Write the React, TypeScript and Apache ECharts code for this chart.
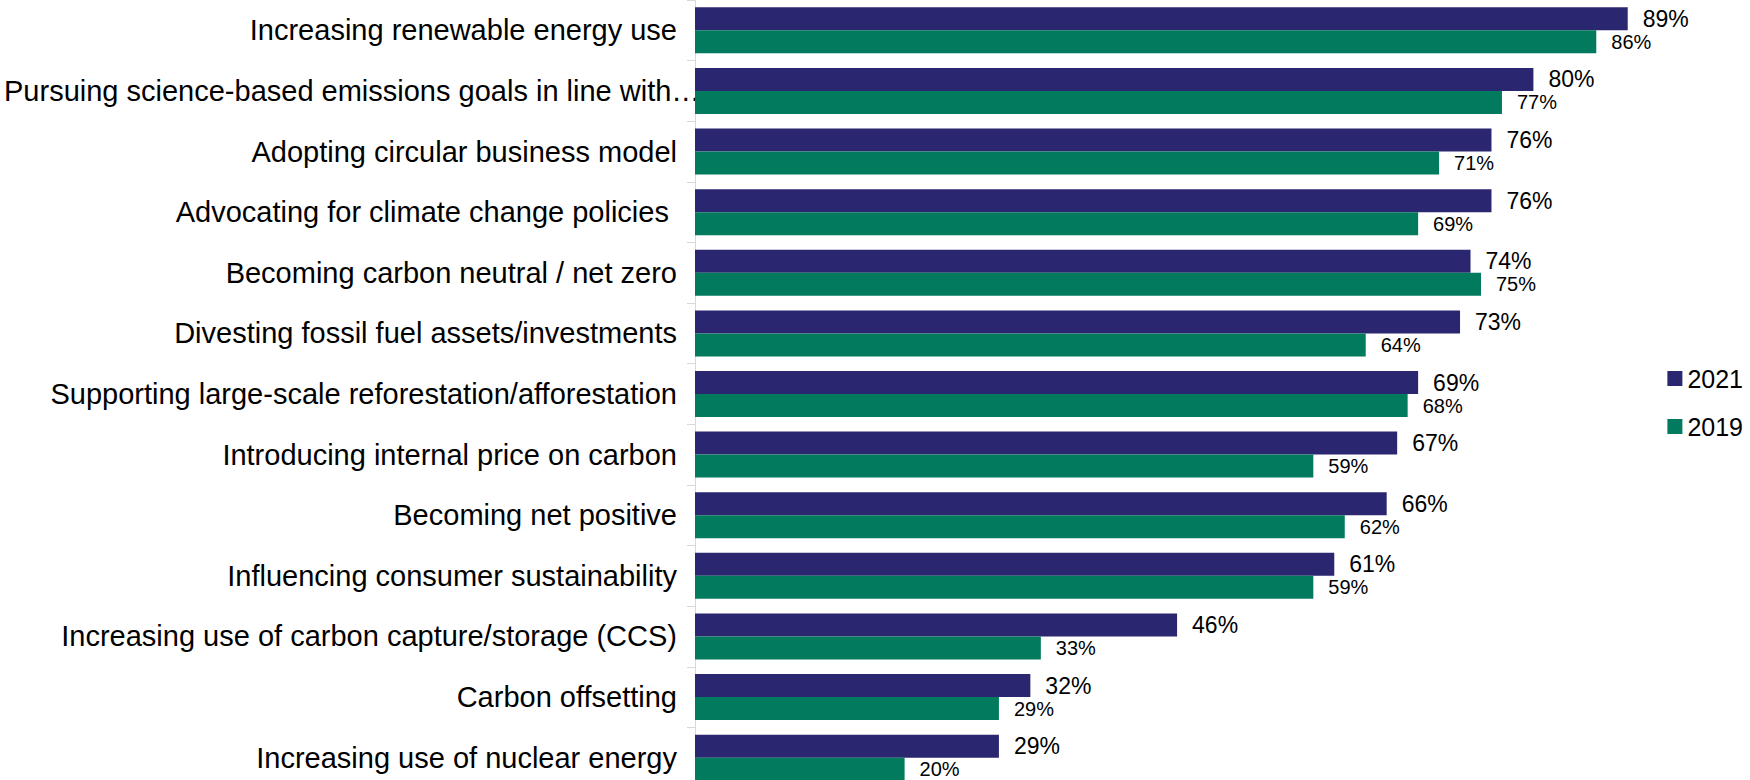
import React, { useEffect, useRef } from "react";
import * as echarts from "echarts";

const categories = [
  "Increasing renewable energy use",
  "Pursuing science-based emissions goals in line with…",
  "Adopting circular business model",
  "Advocating for climate change policies ",
  "Becoming carbon neutral / net zero",
  "Divesting fossil fuel assets/investments",
  "Supporting large-scale reforestation/afforestation",
  "Introducing internal price on carbon",
  "Becoming net positive",
  "Influencing consumer sustainability",
  "Increasing use of carbon capture/storage (CCS)",
  "Carbon offsetting",
  "Increasing use of nuclear energy",
];

const values2021 = [89, 80, 76, 76, 74, 73, 69, 67, 66, 61, 46, 32, 29];
const values2019 = [86, 77, 71, 69, 75, 64, 68, 59, 62, 59, 33, 29, 20];

const seriesNames = ["2021", "2019"];

const FONT = "'Liberation Sans', Arial, sans-serif";

export default function App() {
  const ref = useRef<HTMLDivElement>(null);

  useEffect(() => {
    if (!ref.current) return;
    const chart = echarts.init(ref.current, undefined, { renderer: "svg" });
    chart.setOption({
      animation: false,
      textStyle: { fontFamily: FONT },
      grid: {
        left: 695,
        right: 7,
        top: 0,
        bottom: -8,
        containLabel: false,
        outerBoundsMode: "none",
      },
      legend: {
        orient: "vertical",
        right: 2,
        top: 361,
        itemWidth: 15,
        itemHeight: 15,
        itemGap: 23,
        icon: "rect",
        textStyle: { fontSize: 25, color: "#000", fontFamily: FONT },
        data: seriesNames,
      },
      xAxis: {
        type: "value",
        min: 0,
        max: 100,
        show: false,
        splitLine: { show: false },
      },
      yAxis: {
        type: "category",
        inverse: true,
        data: categories,
        axisLine: { show: true, lineStyle: { color: "#D9D9D9", width: 1 } },
        axisTick: { show: true, length: 8, lineStyle: { color: "#D9D9D9" } },
        axisLabel: {
          fontSize: 29,
          color: "#000",
          margin: 18,
          fontFamily: FONT,
          formatter: (value: string, index: number) =>
            index === 1 ? `{over|${value}}` : value,
          rich: {
            over: {
              width: 673,
              align: "left",
              fontSize: 29,
              color: "#000",
              fontFamily: FONT,
            },
          },
        },
      },
      series: [
        {
          name: seriesNames[0],
          type: "bar",
          data: values2021,
          barWidth: 23,
          barGap: "0%",
          itemStyle: { color: "#2A2670" },
          label: {
            show: true,
            position: "right",
            distance: 15,
            fontSize: 23,
            color: "#000",
            fontFamily: FONT,
            formatter: "{c}%",
          },
        },
        {
          name: seriesNames[1],
          type: "bar",
          data: values2019,
          barWidth: 23,
          barGap: "0%",
          itemStyle: { color: "#027A5E" },
          label: {
            show: true,
            position: "right",
            distance: 15,
            fontSize: 20,
            color: "#000",
            fontFamily: FONT,
            formatter: "{c}%",
          },
        },
      ],
    });
    return () => chart.dispose();
  }, []);

  return (
    <div
      ref={ref}
      style={{ position: "absolute", left: 0, top: 0, width: 1750, height: 780 }}
    />
  );
}
